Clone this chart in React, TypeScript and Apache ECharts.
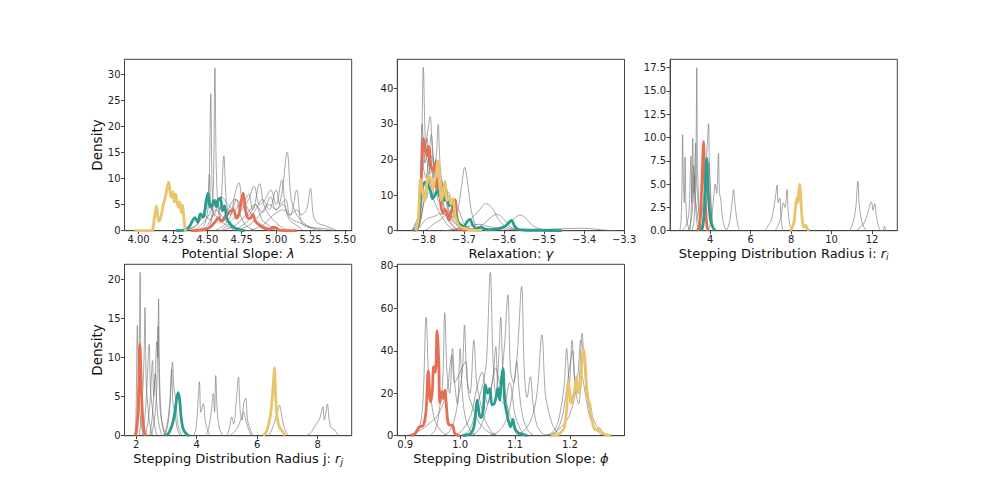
import React, { useEffect, useRef } from "react";
import * as echarts from "echarts";

type Pt = [number, number];

const ORANGE = "#E76F51";
const TEAL = "#2A9D8F";
const YELLOW = "#E9C46A";
const GREY = "rgba(110,110,110,0.6)";

// ---------- Panel 1: Potential Slope ----------
const P1_X_TICKS = [4.0, 4.25, 4.5, 4.75, 5.0, 5.25, 5.5];
const P1_Y_TICKS = [0, 5, 10, 15, 20, 25, 30];
const P1_ORANGE: Pt[] = [[4.38,0],[4.45,0.1],[4.5,0.4],[4.53,0.9],[4.56,1.8],[4.58,2.5],[4.6,1.8],[4.63,2.5],[4.66,3.6],[4.69,4.0],[4.71,2.4],[4.73,3.2],[4.745,5.5],[4.76,7.2],[4.775,4.5],[4.79,2.6],[4.81,2.3],[4.83,3.1],[4.85,1.8],[4.88,1.0],[4.92,0.4],[4.95,0.3],[4.98,0.7],[5.0,0.5],[5.03,0.05],[5.15,0]];
const P1_TEAL: Pt[] = [[4.27,0],[4.33,0.1],[4.37,0.8],[4.39,1.8],[4.41,2.5],[4.43,1.6],[4.45,3.2],[4.47,2.6],[4.49,5.5],[4.505,7.2],[4.52,4.5],[4.535,5.0],[4.55,5.8],[4.565,4.6],[4.58,5.9],[4.595,6.2],[4.61,3.8],[4.625,4.8],[4.64,2.5],[4.66,1.5],[4.68,0.9],[4.71,0.4],[4.74,0.1],[4.77,0]];
const P1_YELLOW: Pt[] = [[3.97,0],[4.08,0],[4.1,0.1],[4.115,2.5],[4.13,4.7],[4.14,2.5],[4.15,1.8],[4.165,3.0],[4.18,5.0],[4.195,6.5],[4.21,8.5],[4.22,9.3],[4.23,7.2],[4.24,6.4],[4.25,7.5],[4.26,5.5],[4.27,7.0],[4.28,5.5],[4.29,4.5],[4.3,5.5],[4.31,3.5],[4.32,4.9],[4.33,2.0],[4.34,0.2],[4.35,0]];
const P1_GREY: Pt[][] = [
  [[4.45,0],[4.5,0.5],[4.53,2],[4.545,10],[4.555,31.2],[4.565,12],[4.58,4],[4.6,2],[4.63,3],[4.66,1],[4.7,0.3],[4.75,0]],
  [[4.4,0],[4.46,0.5],[4.49,2],[4.51,6],[4.525,26.2],[4.535,8],[4.55,3],[4.58,5],[4.6,2],[4.64,1],[4.7,0]],
  [[4.35,0],[4.42,1],[4.47,3],[4.5,5],[4.515,10.8],[4.53,4],[4.56,6],[4.59,4],[4.62,14.3],[4.64,5],[4.67,3],[4.71,6],[4.74,3],[4.78,1],[4.85,0]],
  [[4.7,0],[4.8,1],[4.88,3],[4.95,5],[5.0,4],[5.04,7],[5.08,15],[5.11,6],[5.15,3],[5.2,1.5],[5.25,0.5],[5.3,0]],
  [[4.8,0],[4.9,1],[4.98,3],[5.05,4],[5.1,3],[5.15,7.8],[5.18,3],[5.22,4],[5.25,8.1],[5.27,3],[5.3,1.5],[5.35,1],[5.4,0.5],[5.45,0]],
  [[4.55,0],[4.62,1],[4.67,3],[4.7,7],[4.73,9.2],[4.76,5],[4.8,7],[4.83,4],[4.88,9],[4.91,5],[4.95,3],[5.0,1.5],[5.05,0.5],[5.1,0]],
  [[4.6,0],[4.68,2],[4.75,4],[4.8,6],[4.84,8.5],[4.88,5],[4.92,6],[4.96,7.8],[5.0,5],[5.04,9.7],[5.07,4],[5.1,2],[5.15,1],[5.2,0]],
  [[4.4,0],[4.45,1],[4.5,2.5],[4.55,5],[4.6,6.5],[4.65,5],[4.7,4],[4.75,6],[4.8,4],[4.85,2],[4.9,1],[5.0,0]],
  [[4.7,0],[4.8,2],[4.85,4],[4.9,6],[4.95,4],[5.0,7.8],[5.03,5],[5.07,6],[5.1,3],[5.15,4],[5.2,1],[5.3,0.5],[5.38,0.3],[5.42,0]],
  [[4.45,0],[4.5,1],[4.55,3],[4.6,2],[4.65,4],[4.7,6],[4.75,5],[4.8,3],[4.85,5],[4.9,2],[4.95,1],[5.0,0]],
  [[4.6,0],[4.7,1],[4.78,3],[4.85,5],[4.9,3.5],[4.96,6.5],[5.0,4],[5.05,5],[5.1,2.5],[5.2,1.2],[5.3,0.3],[5.35,0]],
  [[4.3,0],[4.38,0.5],[4.42,1],[4.48,3],[4.52,2],[4.56,4],[4.6,3],[4.65,1.5],[4.7,0.5],[4.8,0]],
];

// ---------- Panel 2: Relaxation ----------
const P2_X_TICKS = [-3.8, -3.7, -3.6, -3.5, -3.4, -3.3];
const P2_Y_TICKS = [0, 10, 20, 30, 40];
const P2_ORANGE: Pt[] = [[-3.82,0],[-3.812,2],[-3.806,15],[-3.801,25.8],[-3.796,23],[-3.791,21],[-3.787,23.5],[-3.782,18],[-3.777,17],[-3.772,19],[-3.767,12],[-3.762,12.5],[-3.757,7],[-3.752,5],[-3.747,6],[-3.742,5],[-3.737,3],[-3.732,5],[-3.727,7],[-3.722,8.7],[-3.717,3.5],[-3.712,1.2],[-3.705,0.3],[-3.695,0]];
const P2_TEAL: Pt[] = [[-3.825,0],[-3.815,1],[-3.808,9],[-3.802,12.5],[-3.796,13.6],[-3.79,12.8],[-3.784,11.5],[-3.778,9],[-3.772,10],[-3.766,11.3],[-3.76,9.5],[-3.754,10.5],[-3.748,8.5],[-3.742,9.5],[-3.736,7],[-3.73,8],[-3.724,5.5],[-3.718,3.5],[-3.71,1.8],[-3.7,1.2],[-3.692,2.5],[-3.685,3.2],[-3.677,1.5],[-3.668,0.6],[-3.658,1.0],[-3.648,0.5],[-3.635,0.3],[-3.615,0.5],[-3.598,1.2],[-3.588,2.2],[-3.581,2.9],[-3.573,1.2],[-3.565,0.4],[-3.55,0.2],[-3.5,0.1],[-3.455,0]];
const P2_YELLOW: Pt[] = [[-3.82,0],[-3.814,3],[-3.808,14.5],[-3.803,11],[-3.798,8.2],[-3.793,12.8],[-3.788,15.5],[-3.783,14.5],[-3.778,11.5],[-3.773,14],[-3.768,17],[-3.764,19.5],[-3.76,13],[-3.756,8.5],[-3.751,11],[-3.747,13.8],[-3.742,8.5],[-3.737,9.5],[-3.732,7.5],[-3.727,9],[-3.722,4.5],[-3.717,2.5],[-3.71,1.1],[-3.7,0.7],[-3.685,0.2],[-3.655,0]];
const P2_GREY: Pt[][] = [
  [[-3.83,0],[-3.815,2],[-3.806,20],[-3.801,45.8],[-3.796,25],[-3.79,18],[-3.784,12],[-3.776,9],[-3.765,6],[-3.75,3],[-3.735,1],[-3.72,0]],
  [[-3.83,0],[-3.815,3],[-3.805,15],[-3.797,22],[-3.79,28],[-3.784,32],[-3.778,22],[-3.77,16],[-3.76,11],[-3.75,6],[-3.74,3],[-3.725,1],[-3.71,0]],
  [[-3.83,0],[-3.812,5],[-3.804,30],[-3.798,22],[-3.792,26],[-3.786,18],[-3.78,21],[-3.772,14],[-3.763,12],[-3.752,8],[-3.742,5],[-3.73,2],[-3.715,0]],
  [[-3.825,0],[-3.81,2],[-3.8,8],[-3.79,14],[-3.782,18],[-3.775,15],[-3.768,22],[-3.764,29.8],[-3.759,18],[-3.752,12],[-3.744,9],[-3.735,5],[-3.72,2],[-3.7,0.5],[-3.68,0]],
  [[-3.82,0],[-3.81,4],[-3.802,18],[-3.795,15],[-3.788,20],[-3.781,27],[-3.775,19],[-3.768,15],[-3.76,10],[-3.75,8],[-3.74,10],[-3.73,6],[-3.72,3],[-3.7,1],[-3.68,0]],
  [[-3.82,0],[-3.808,3],[-3.798,10],[-3.79,16],[-3.782,13],[-3.775,17],[-3.768,12],[-3.76,14],[-3.752,10],[-3.744,12],[-3.736,7],[-3.728,8],[-3.72,4],[-3.71,2],[-3.69,0.5],[-3.67,0]],
  [[-3.8,0],[-3.79,0.5],[-3.78,1.5],[-3.76,3],[-3.74,4.5],[-3.725,4],[-3.715,6],[-3.705,13],[-3.698,17.8],[-3.69,13],[-3.682,6],[-3.672,2],[-3.66,0.5],[-3.645,0]],
  [[-3.75,0],[-3.72,0.5],[-3.7,1.5],[-3.68,3.5],[-3.66,6],[-3.645,7.6],[-3.63,6.5],[-3.615,3.5],[-3.6,1.5],[-3.58,0.5],[-3.56,0]],
  [[-3.72,0],[-3.68,0.5],[-3.655,1.5],[-3.635,3.5],[-3.618,4.6],[-3.6,3.2],[-3.585,1.2],[-3.565,0.3],[-3.54,0]],
  [[-3.66,0],[-3.62,0.3],[-3.6,1],[-3.585,2.5],[-3.57,3.8],[-3.56,4.4],[-3.548,3.8],[-3.535,2.2],[-3.52,0.9],[-3.5,0.4],[-3.47,0.5],[-3.44,0.6],[-3.4,0.7],[-3.37,0.4],[-3.34,0.1],[-3.32,0]],
  [[-3.82,0],[-3.81,3],[-3.8,11],[-3.793,9],[-3.786,14],[-3.778,10],[-3.77,20],[-3.764,12],[-3.756,14],[-3.748,9],[-3.74,11],[-3.73,8],[-3.722,5],[-3.715,6],[-3.7,2],[-3.685,0.5],[-3.67,0]],
  [[-3.82,0],[-3.81,1],[-3.8,2.5],[-3.79,3.5],[-3.78,3.8],[-3.77,4.2],[-3.76,4.8],[-3.75,4.5],[-3.74,4.9],[-3.73,4],[-3.72,3],[-3.7,1.5],[-3.68,0.5],[-3.66,0]],
  [[-3.82,0],[-3.81,5],[-3.803,25],[-3.797,19],[-3.79,24],[-3.783,16],[-3.776,18],[-3.768,10],[-3.76,8],[-3.75,11],[-3.74,6],[-3.73,3],[-3.71,1],[-3.69,0]],
  [[-3.75,0],[-3.72,0.3],[-3.7,0.8],[-3.68,1.5],[-3.66,1.8],[-3.64,1.2],[-3.62,0.8],[-3.6,0.5],[-3.57,0.3],[-3.5,0.2],[-3.45,0]],
];

// ---------- Panel 3: Stepping Distribution Radius i ----------
const P3_X_TICKS = [4, 6, 8, 10, 12];
const P3_Y_TICKS = [0, 2.5, 5, 7.5, 10, 12.5, 15, 17.5];
const P3_ORANGE: Pt[] = [[3.35,0],[3.45,0.3],[3.52,1.5],[3.58,4.5],[3.64,8],[3.67,9.55],[3.71,7],[3.76,3.5],[3.8,1.5],[3.85,0.4],[3.9,0]];
const P3_TEAL: Pt[] = [[3.55,0],[3.63,0.4],[3.7,1.8],[3.76,4.5],[3.8,7],[3.83,7.75],[3.87,6],[3.92,3.5],[3.98,1.8],[4.05,0.8],[4.15,0.3],[4.25,0]];
const P3_YELLOW: Pt[] = [[7.95,0],[8.05,0.3],[8.15,1],[8.22,2.5],[8.28,3.5],[8.33,3],[8.38,4.2],[8.43,5.0],[8.47,4.0],[8.52,2],[8.58,0.7],[8.65,0.4],[8.72,0.6],[8.8,0.2],[8.9,0]];
const P3_GREY: Pt[][] = [
  [[2.5,0],[2.56,1],[2.6,4],[2.64,10.3],[2.68,5],[2.72,3],[2.76,7.9],[2.8,3],[2.85,1],[2.9,0.5],[3.0,0]],
  [[3.0,0],[3.06,2],[3.1,5],[3.14,9.9],[3.18,4],[3.22,6],[3.26,3],[3.3,2],[3.36,0.5],[3.42,0]],
  [[3.1,0],[3.2,1],[3.26,4],[3.3,8],[3.34,17.5],[3.37,7],[3.4,5],[3.44,3],[3.5,1],[3.56,0]],
  [[3.3,0],[3.45,0.5],[3.6,2],[3.7,4],[3.78,7],[3.85,9],[3.92,11.5],[3.96,7],[4.0,5],[4.05,3],[4.1,1],[4.2,0]],
  [[3.9,0],[4.05,1],[4.15,3],[4.25,5],[4.32,4],[4.41,8.3],[4.46,4],[4.52,3.5],[4.6,1.5],[4.7,0.5],[4.8,0]],
  [[4.8,0],[4.9,0.5],[5.0,1.5],[5.08,3],[5.16,4.4],[5.22,3],[5.3,1.5],[5.38,0.5],[5.45,0]],
  [[6.7,0],[6.85,0.5],[7.0,1],[7.15,2.5],[7.25,4],[7.31,4.9],[7.36,3],[7.44,3.5],[7.5,1.5],[7.55,0.5],[7.6,0]],
  [[7.2,0],[7.35,0.5],[7.5,1.5],[7.62,3],[7.7,2.5],[7.8,4.4],[7.86,2],[7.95,0.5],[8.05,0]],
  [[10.9,0],[11.0,0.5],[11.1,1.2],[11.2,2.5],[11.3,5.3],[11.36,3],[11.45,1.5],[11.55,0.6],[11.65,0.2],[11.75,0]],
  [[11.2,0],[11.45,0.4],[11.65,1],[11.8,2],[11.92,3],[11.97,3.1],[12.05,2.2],[12.13,2.9],[12.22,1.5],[12.35,0.3],[12.45,0],[12.55,0.1],[12.62,0.5],[12.68,0]],
  [[2.6,0],[2.8,0.5],[2.95,2],[3.05,8],[3.1,3],[3.18,7],[3.25,4],[3.35,2],[3.45,0.5],[3.55,0]],
  [[2.9,0],[3.05,1],[3.15,3],[3.22,5],[3.28,9.4],[3.33,5],[3.4,3.2],[3.45,1.5],[3.55,0]],
  [[3.5,0],[3.65,1],[3.75,3],[3.85,6.5],[3.9,5.5],[3.95,7.3],[4.02,3],[4.1,1],[4.2,0]],
];

// ---------- Panel 4: Stepping Distribution Radius j ----------
const P4_X_TICKS = [2, 4, 6, 8];
const P4_Y_TICKS = [0, 5, 10, 15, 20];
const P4_ORANGE: Pt[] = [[1.98,0],[2.02,0.8],[2.06,3],[2.09,7],[2.12,11.7],[2.15,9],[2.18,5],[2.22,2],[2.27,0.5],[2.32,0]];
const P4_TEAL: Pt[] = [[3.0,0],[3.1,0.5],[3.2,1.5],[3.28,3],[3.34,4.8],[3.39,5.5],[3.44,4.5],[3.48,2.6],[3.53,1.2],[3.6,0.5],[3.7,0.1],[3.75,0]];
const P4_YELLOW: Pt[] = [[6.2,0],[6.3,0.5],[6.38,1.5],[6.45,3],[6.5,5],[6.54,7],[6.57,8.7],[6.6,6],[6.64,3],[6.7,1.5],[6.78,0.8],[6.85,0.5],[6.92,0]];
const P4_GREY: Pt[][] = [
  [[1.95,0],[2.0,1],[2.06,4],[2.1,10],[2.13,20.9],[2.16,8],[2.2,3],[2.25,1],[2.3,0]],
  [[1.95,0],[1.99,2],[2.04,14.1],[2.08,6],[2.12,3],[2.18,1],[2.25,0]],
  [[2.1,0],[2.16,2],[2.22,6],[2.26,10],[2.29,16.4],[2.33,7],[2.38,4],[2.43,2],[2.5,0.5],[2.55,0]],
  [[2.45,0],[2.52,2],[2.58,5],[2.63,8],[2.68,12],[2.71,10],[2.74,17.5],[2.77,8],[2.82,3],[2.88,1],[2.95,0]],
  [[2.2,0],[2.28,2],[2.35,6],[2.43,11.7],[2.47,6],[2.52,4],[2.58,2],[2.65,0.5],[2.7,0]],
  [[2.3,0],[2.4,2],[2.47,5],[2.54,9.6],[2.58,5],[2.63,7.9],[2.68,4],[2.75,1.5],[2.85,0]],
  [[2.5,0],[2.6,2],[2.68,6],[2.72,14],[2.76,7],[2.8,3],[2.9,1],[3.0,0]],
  [[2.9,0],[3.0,1],[3.08,3],[3.14,6],[3.2,9.4],[3.25,6],[3.3,5],[3.36,2],[3.45,0.5],[3.55,0]],
  [[2.95,0],[3.05,1.5],[3.12,4],[3.17,8.5],[3.22,4],[3.28,3],[3.35,1],[3.45,0]],
  [[3.9,0],[3.98,1],[4.04,4],[4.09,6.9],[4.14,3],[4.22,4.1],[4.28,2],[4.35,0.8],[4.45,0]],
  [[4.3,0],[4.4,1],[4.48,3],[4.55,5.4],[4.59,3],[4.63,7.7],[4.68,3],[4.75,1],[4.85,0]],
  [[5.0,0],[5.08,1],[5.16,2.4],[5.22,1.5],[5.3,4],[5.38,7.5],[5.44,3],[5.5,2],[5.55,4.1],[5.62,4.8],[5.68,2],[5.75,1],[5.85,0]],
  [[5.1,0],[5.25,0.5],[5.35,1],[5.45,2],[5.55,3],[5.62,2],[5.7,1],[5.8,0]],
  [[6.35,0],[6.45,0.5],[6.55,1.5],[6.63,2.5],[6.7,3.5],[6.74,3.9],[6.8,2.8],[6.86,1.5],[6.95,0.5],[7.05,0]],
  [[7.6,0],[7.75,0.3],[7.85,0.8],[7.95,1.5],[8.05,2],[8.12,3],[8.17,3.7],[8.22,2],[8.27,3],[8.32,4.05],[8.38,2],[8.45,1],[8.55,0.8],[8.65,0.2],[8.7,0]],
];

// ---------- Panel 5: Stepping Distribution Slope ----------
const P5_X_TICKS = [0.9, 1.0, 1.1, 1.2];
const P5_Y_TICKS = [0, 20, 40, 60, 80];
const P5_ORANGE: Pt[] = [[0.91,0],[0.918,1],[0.925,4],[0.933,5],[0.938,12],[0.942,30.5],[0.946,16],[0.949,20],[0.952,32.5],[0.955,30],[0.958,49.5],[0.961,35],[0.963,15.5],[0.966,20.8],[0.969,17.5],[0.972,21.5],[0.975,14],[0.978,6],[0.982,5],[0.986,5],[0.99,1.2],[0.995,0.2],[1.0,0]];
const P5_TEAL: Pt[] = [[1.005,0],[1.015,0.5],[1.02,1.2],[1.025,4],[1.028,10],[1.031,16.8],[1.035,10],[1.038,8.5],[1.042,12],[1.046,24],[1.05,20],[1.054,22.3],[1.058,14.5],[1.062,15],[1.065,17.6],[1.069,22.3],[1.072,16.8],[1.075,26],[1.078,31.6],[1.081,17],[1.084,12],[1.088,7],[1.092,4.2],[1.096,7.7],[1.1,3],[1.105,1.5],[1.112,0.8],[1.122,0]];
const P5_YELLOW: Pt[] = [[1.165,0],[1.178,0.5],[1.185,1.9],[1.19,4],[1.194,12],[1.197,25.5],[1.2,20],[1.202,15.3],[1.206,18.5],[1.209,22],[1.212,27.8],[1.215,20],[1.219,23],[1.222,35],[1.224,41.2],[1.227,37],[1.229,30],[1.232,17],[1.236,15.3],[1.24,8],[1.243,4],[1.248,2.7],[1.253,3.5],[1.258,1.5],[1.265,0.5],[1.275,0]];
const P5_GREY: Pt[][] = [
  [[0.915,0],[0.925,3],[0.932,15],[0.938,55.8],[0.943,25],[0.948,15],[0.953,8],[0.96,4],[0.97,1],[0.98,0]],
  [[0.945,0],[0.955,3],[0.962,12],[0.968,25],[0.972,58],[0.976,30],[0.981,20],[0.986,41],[0.99,25],[0.995,15],[1.0,41],[1.004,20],[1.01,8],[1.02,2],[1.03,0]],
  [[0.97,0],[0.98,2],[0.99,8],[0.998,20],[1.004,30],[1.008,52.2],[1.012,28],[1.018,20],[1.025,45],[1.03,25],[1.035,18],[1.04,12],[1.048,6],[1.06,1],[1.07,0]],
  [[1.0,0],[1.015,2],[1.025,8],[1.035,18],[1.042,25],[1.048,35],[1.055,76.9],[1.06,35],[1.065,20],[1.07,35],[1.074,55.8],[1.078,30],[1.083,18],[1.09,10],[1.1,4],[1.11,1],[1.12,0]],
  [[1.02,0],[1.035,3],[1.045,10],[1.055,20],[1.065,32],[1.072,25],[1.08,40],[1.087,66.4],[1.092,30],[1.098,25],[1.103,35],[1.108,20],[1.115,8],[1.125,2],[1.135,0]],
  [[1.05,0],[1.07,2],[1.085,8],[1.095,20],[1.104,38],[1.112,70.3],[1.117,30],[1.122,18],[1.128,27.8],[1.133,15],[1.14,5],[1.15,1],[1.16,0]],
  [[1.1,0],[1.115,2],[1.13,8],[1.14,20],[1.149,47.5],[1.155,20],[1.16,13],[1.167,6],[1.175,2],[1.185,0]],
  [[1.15,0],[1.165,1],[1.175,4],[1.183,12],[1.19,25],[1.194,41.2],[1.199,25],[1.204,45],[1.208,28],[1.214,20],[1.218,30],[1.222,48.3],[1.226,35],[1.23,20],[1.236,12],[1.242,5],[1.25,2.5],[1.258,2],[1.265,0.5],[1.275,0]],
  [[1.16,0],[1.175,2],[1.185,8],[1.192,18],[1.198,30],[1.205,40],[1.21,22],[1.216,15],[1.222,28],[1.228,20],[1.235,10],[1.245,4],[1.255,1],[1.265,0]],
  [[0.9,0],[0.915,1],[0.93,3],[0.945,6],[0.96,10],[0.975,20],[0.985,38],[0.99,25],[1.0,30],[1.01,35],[1.015,20],[1.025,12],[1.035,6],[1.05,2],[1.07,0]],
  [[0.99,0],[1.005,3],[1.02,10],[1.03,22],[1.04,30],[1.05,15],[1.06,28],[1.065,42],[1.07,20],[1.08,15],[1.09,25],[1.1,10],[1.11,3],[1.12,0]],
  [[1.15,0],[1.17,1],[1.18,3],[1.19,6],[1.2,10],[1.21,20],[1.215,30],[1.22,45],[1.225,38],[1.232,22],[1.24,10],[1.25,4],[1.26,1],[1.27,0]],
];

const minus = (s: string) => s.replace("-", "\u2212");

const panels = [
  { left: 124.5, top: 59.3, xMin: 3.898, xMax: 5.549, yMax: 32.83, xTicks: P1_X_TICKS, yTicks: P1_Y_TICKS,
    xFmt: (v: number) => v.toFixed(2), yFmt: (v: number) => String(v),
    xName: "Potential Slope: {m|λ}", yName: "Density",
    grey: P1_GREY, orange: P1_ORANGE, teal: P1_TEAL, yellow: P1_YELLOW },
  { left: 397.3, top: 59.3, xMin: -3.866, xMax: -3.299, yMax: 48.1, xTicks: P2_X_TICKS, yTicks: P2_Y_TICKS,
    xFmt: (v: number) => minus(v.toFixed(1)), yFmt: (v: number) => String(v),
    xName: "Relaxation: {m|γ}", yName: "",
    grey: P2_GREY, orange: P2_ORANGE, teal: P2_TEAL, yellow: P2_YELLOW },
  { left: 670.1, top: 59.3, xMin: 2.02, xMax: 13.25, yMax: 18.4, xTicks: P3_X_TICKS, yTicks: P3_Y_TICKS,
    xFmt: (v: number) => String(v), yFmt: (v: number) => v.toFixed(1),
    xName: "Stepping Distribution Radius i: {m|r}{s|i}", yName: "",
    grey: P3_GREY, orange: P3_ORANGE, teal: P3_TEAL, yellow: P3_YELLOW },
  { left: 124.5, top: 264.3, xMin: 1.614, xMax: 9.123, yMax: 21.92, xTicks: P4_X_TICKS, yTicks: P4_Y_TICKS,
    xFmt: (v: number) => String(v), yFmt: (v: number) => String(v),
    xName: "Stepping Distribution Radius j: {m|r}{s|j}", yName: "Density",
    grey: P4_GREY, orange: P4_ORANGE, teal: P4_TEAL, yellow: P4_YELLOW },
  { left: 397.3, top: 264.3, xMin: 0.8855, xMax: 1.2995, yMax: 80.8, xTicks: P5_X_TICKS, yTicks: P5_Y_TICKS,
    xFmt: (v: number) => v.toFixed(1), yFmt: (v: number) => String(v),
    xName: "Stepping Distribution Slope: {m|ϕ}", yName: "",
    grey: P5_GREY, orange: P5_ORANGE, teal: P5_TEAL, yellow: P5_YELLOW },
];

const W = 227.2;
const H = 171.4;
const FONT = "DejaVu Sans";
const AXIS_COLOR = "#444";

export default function App() {
  const ref = useRef<HTMLDivElement>(null);
  useEffect(() => {
    if (!ref.current) return;
    const chart = echarts.init(ref.current, undefined, { renderer: "svg" });
    const grid: any[] = [];
    const xAxis: any[] = [];
    const yAxis: any[] = [];
    const series: any[] = [];
    panels.forEach((p, i) => {
      grid.push({ left: p.left, top: p.top, width: W, height: H, show: true, borderColor: AXIS_COLOR, borderWidth: 1, backgroundColor: "#fff" });
      xAxis.push({
        type: "value", gridIndex: i, min: p.xMin, max: p.xMax,
        axisLine: { show: true, lineStyle: { color: AXIS_COLOR, width: 1 } },
        axisTick: { show: true, customValues: p.xTicks, length: 3.5, lineStyle: { color: AXIS_COLOR } },
        axisLabel: { customValues: p.xTicks, formatter: p.xFmt, fontFamily: FONT, fontSize: 10, color: "#222", margin: 4, showMinLabel: true, showMaxLabel: true },
        splitLine: { show: false },
        name: p.xName, nameLocation: "middle", nameGap: 14,
        nameTextStyle: {
          fontFamily: FONT, fontSize: 13, color: "#111", lineHeight: 16,
          rich: {
            m: { fontFamily: FONT, fontSize: 13, fontStyle: "italic", color: "#111", lineHeight: 16 },
            s: { fontFamily: FONT, fontSize: 9, fontStyle: "italic", color: "#111", verticalAlign: "bottom", lineHeight: 9 },
          },
        },
      });
      yAxis.push({
        type: "value", gridIndex: i, min: 0, max: p.yMax,
        axisLine: { show: true, lineStyle: { color: AXIS_COLOR, width: 1 } },
        axisTick: { show: true, customValues: p.yTicks, length: 3.5, lineStyle: { color: AXIS_COLOR } },
        axisLabel: { customValues: p.yTicks, formatter: p.yFmt, fontFamily: FONT, fontSize: 10, color: "#222", margin: 4, showMinLabel: true, showMaxLabel: true },
        splitLine: { show: false },
        name: p.yName, nameLocation: "middle", nameGap: 20, nameRotate: 90,
        nameTextStyle: { fontFamily: FONT, fontSize: 13.5, color: "#111" },
      });
      p.grey.forEach((g) => {
        series.push({
          type: "line", xAxisIndex: i, yAxisIndex: i, data: g, showSymbol: false, symbol: "none",
          smooth: 0.35, silent: true, z: 2,
          lineStyle: { color: GREY, width: 1 },
        });
      });
      const colored: [Pt[], string][] = [[p.orange, ORANGE], [p.teal, TEAL], [p.yellow, YELLOW]];
      colored.forEach(([d, c]) => {
        series.push({
          type: "line", xAxisIndex: i, yAxisIndex: i, data: d, showSymbol: false, symbol: "none",
          smooth: 0.35, silent: true, z: 3,
          lineStyle: { color: c, width: 2.8 },
        });
      });
    });
    chart.setOption({ animation: false, backgroundColor: "#fff", grid, xAxis, yAxis, series });
    return () => chart.dispose();
  }, []);
  return <div ref={ref} style={{ position: "absolute", left: 0, top: 0, width: 997, height: 498 }} />;
}
